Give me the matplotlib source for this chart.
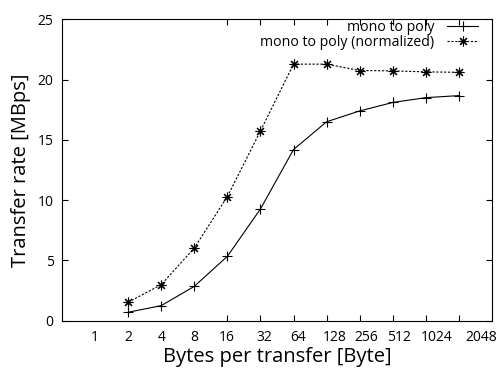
import matplotlib
matplotlib.use("Agg")
import matplotlib.pyplot as plt
from matplotlib.ticker import FixedLocator, NullFormatter

plt.rcParams['font.family'] = ['Open Sans', 'DejaVu Sans']

# data
sizes = [2, 4, 8, 16, 32, 64, 128, 256, 512, 1024, 2048]
mono_to_poly = [0.70, 1.25, 2.85, 5.34, 9.27, 14.2, 16.5, 17.4, 18.1, 18.5, 18.67]
mono_to_poly_norm = [1.53, 2.99, 6.03, 10.3, 15.74, 21.28, 21.28, 20.75, 20.72, 20.64, 20.6]
tick_values = [1, 2, 4, 8, 16, 32, 64, 128, 256, 512, 1024, 2048]
tick_labels = ['1', '2', '4', '8', '16', '32', '64', '128', '256', '512', '1024', '2048']
y_ticks = [0, 5, 10, 15, 20, 25]

# layout: small horizontal shift of the tick labels (in log2 units), as in the reference
label_shift = [0, 0, 0, 0, -0.02, 0.12, 0.14, 0.23, 0.2, 0.19, 0.33, 0.66]

fig = plt.figure(figsize=(5.0, 3.68), dpi=100)
ax = fig.add_axes([0.124, 0.1285, 0.86, 0.8191])

ax.plot(sizes, mono_to_poly, color='black', lw=0.8, marker='+', ms=7,
        mew=0.8, label='mono to poly')
ax.plot(sizes, mono_to_poly_norm, color='black', lw=0.8, ls=(0, (2, 1.5)),
        marker=(8, 2, 0), ms=7, mew=0.8, label='mono to poly (normalized)')

ax.set_xscale('log', base=2)
ax.set_xlim(0.5, 4096)
ax.set_ylim(0, 25)

# tick marks
ax.xaxis.set_minor_locator(FixedLocator(tick_values))
ax.xaxis.set_minor_formatter(NullFormatter())
label_pos = [v * 2 ** s for v, s in zip(tick_values, label_shift)]
ax.set_xticks(label_pos, tick_labels)
ax.tick_params(axis='x', which='major', length=0, pad=7, labelsize=10)
ax.tick_params(axis='x', which='minor', length=4, width=0.8, direction='in',
               top=True, bottom=True)
ax.set_yticks(y_ticks)
ax.tick_params(axis='y', which='major', length=4, width=0.8, direction='in',
               left=True, right=True, labelsize=10, pad=6)
ax.yaxis.set_minor_locator(FixedLocator([]))

for s in ax.spines.values():
    s.set_linewidth(0.8)

ax.set_xlabel('Bytes per transfer [Byte]', fontsize=14.5, labelpad=1)
ax.set_ylabel('Transfer rate [MBps]', fontsize=14.5, labelpad=5)

ax.legend(loc='upper right', frameon=False, markerfirst=False, fontsize=10.2,
          handlelength=2.2, handletextpad=0.9, labelspacing=0.0,
          borderaxespad=0.1, bbox_to_anchor=(0.985, 1.02))

fig.savefig('out.png', dpi=100)
